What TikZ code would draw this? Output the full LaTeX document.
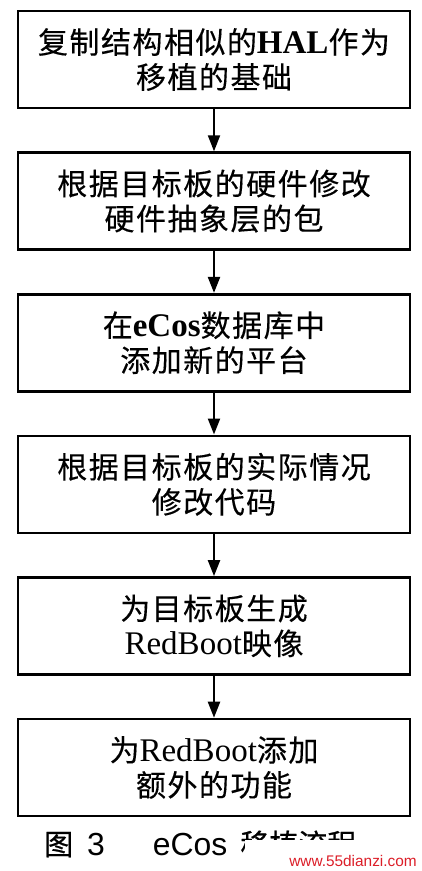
\documentclass[tikz,border=0pt]{standalone}
\usepackage{fontspec}
\usetikzlibrary{arrows.meta,positioning}
\setmainfont{Noto Sans CJK SC}[LetterSpace=5,FakeBold=0.3]
\newfontfamily\en{Liberation Serif}[Scale=1.1]
\newfontfamily\ensans{Liberation Sans}[Scale=1.1]
\newfontfamily\capzh{Noto Sans CJK SC}[FakeBold=0.8]
\definecolor{markR}{RGB}{220,30,40}

\begin{document}
\begin{tikzpicture}[x=1pt,y=1pt,>={Triangle[width=12pt,length=16pt]},
  stepbox/.style={draw,line width=2.6pt,minimum width=392pt,minimum height=97pt,
    align=center,inner sep=0pt,font=\fontsize{30}{35}\selectfont},
  flow/.style={->,line width=2.2pt}]
\useasboundingbox (0,0) rectangle (422,-871);
\node[stepbox] (b1) at (214,-59.5) {复制结构相似的{\en\bfseries HAL}作为\\移植的基础};
\node[stepbox,below=42pt of b1] (b2) {根据目标板的硬件修改\\硬件抽象层的包};
\node[stepbox,below=42pt of b2] (b3) {在{\en\bfseries eCos}数据库中\\添加新的平台};
\node[stepbox,below=42pt of b3] (b4) {根据目标板的实际情况\\修改代码};
\node[stepbox,below=42pt of b4] (b5) {为目标板生成\\{\en RedBoot}映像};
\node[stepbox,below=42pt of b5] (b6) {为{\en RedBoot}添加\\额外的功能};
\foreach \a/\b in {b1/b2,b2/b3,b3/b4,b4/b5,b5/b6}
  \draw[flow] (\a) -- (\b);
% caption, partly hidden by the site mark
\node[font=\fontsize{29}{32}\selectfont,anchor=base west,inner sep=0pt,text depth=0pt] (cap) at (44,-855)
  {\capzh 图\hspace{14pt}{\ensans 3}\hspace{48pt}{\ensans eCos}\hspace{13pt}移植流程};
\fill[white] (245,-840) rectangle (422,-871);
\node[font=\ensans\fontsize{14}{17}\selectfont,text=markR,anchor=base east,inner sep=0pt] (mark) at (417,-866) {www.55dianzi.com};
\end{tikzpicture}
\end{document}
